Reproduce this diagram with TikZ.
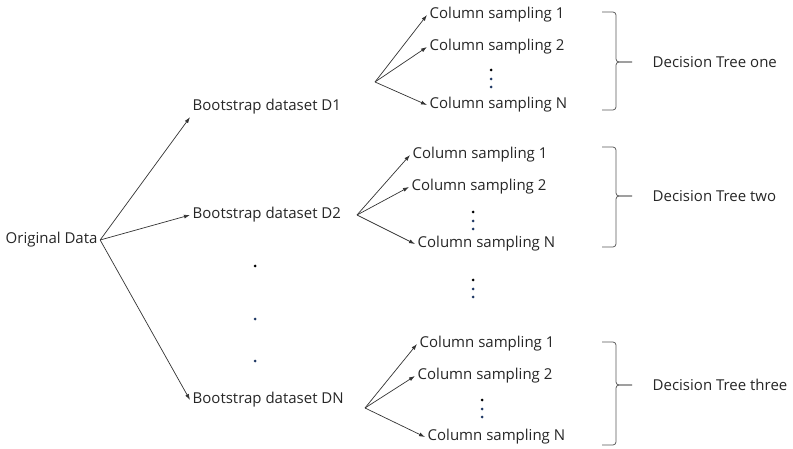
\documentclass[tikz,border=0pt]{standalone}
\usepackage{fontspec}
\setmainfont{Open Sans}
\usetikzlibrary{arrows.meta}

\definecolor{dotblue}{RGB}{31,56,100}
\tikzset{
  lbl/.style={inner sep=2.5pt, anchor=west, font=\fontsize{15}{17}\selectfont, text=black!85},
  arr/.style={-{Latex[length=6pt,width=4pt]}, line width=.7pt, black!80},
  tree/.style={line width=.75pt, black!65, rounded corners=3pt},
}

\begin{document}
\begin{tikzpicture}[x=1pt, y=-1pt]
  \useasboundingbox (0,0) rectangle (793,449);

  % data and bootstrap samples
  \node[lbl] (orig) at (3,240) {Original Data};
  \node[lbl] (d1) at (190,107) {Bootstrap dataset D1};
  \node[lbl] (d2) at (190,215) {Bootstrap dataset D2};
  \node[lbl] (dn) at (190,400) {Bootstrap dataset DN};
  \draw[arr] (orig.east) -- (d1.south west);
  \draw[arr] (orig.east) -- (d2.west);
  \draw[arr] (orig.east) -- (dn.west);
  \fill (255,266) circle (1.5pt);
  \fill[dotblue] (255,319) circle (1.5pt) (255,361) circle (1.5pt);

  % column sampling for each sample
  \coordinate (f1) at (375,82);
  \coordinate (f2) at (357,215);
  \coordinate (f3) at (365,408);
  \node[lbl] (c11) at (427,15) {Column sampling 1};
  \node[lbl] (c12) at (427,47) {Column sampling 2};
  \node[lbl] (c1n) at (427,105) {Column sampling N};
  \node[lbl] (c21) at (410,155) {Column sampling 1};
  \node[lbl] (c22) at (409,187) {Column sampling 2};
  \node[lbl] (c2n) at (415,244) {Column sampling N};
  \node[lbl] (c31) at (417,344) {Column sampling 1};
  \node[lbl] (c32) at (415,376) {Column sampling 2};
  \node[lbl] (c3n) at (425,437) {Column sampling N};
  \foreach \g in {1,2,3} {
    \draw[arr] (f\g) -- (c\g1.west);
    \draw[arr] (f\g) -- (c\g2.west);
    \draw[arr] (f\g) -- (c\g n.west);
  }

  % vertical dots
  \foreach \x/\y in {491/70, 473/212, 473/280, 482/400} {
    \fill (\x,\y) circle (1.5pt);
    \fill[dotblue] (\x,\y+9) circle (1.5pt) (\x,\y+17) circle (1.5pt);
  }

  % trees
  \foreach \t/\b/\m in {12/110/62, 147/247/196, 342/445/385} {
    \draw[tree] (602,\t) -- (616,\t) -- (616,\m) -- (632,\m);
    \draw[tree] (602,\b) -- (616,\b) -- (616,\m) -- (632,\m);
  }
  \node[lbl] (dt1) at (650,62) {Decision Tree one};
  \node[lbl] (dt2) at (650,196) {Decision Tree two};
  \node[lbl] (dt3) at (650,385) {Decision Tree three};
\end{tikzpicture}
\end{document}
